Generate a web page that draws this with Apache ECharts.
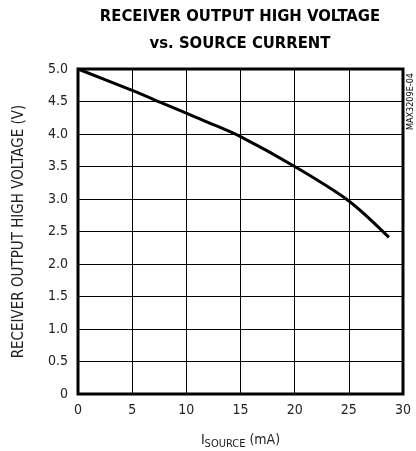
<!DOCTYPE html>
<html><head><meta charset="utf-8">
<script src="https://cdn.jsdelivr.net/npm/echarts@6/dist/echarts.min.js"></script>
<style>html,body{margin:0;padding:0;background:#fff}#c{width:416px;height:451px}</style>
</head><body><div id="c"></div>
<script>
const currentMA = [0, 5, 8, 10, 12, 15, 20, 25, 28.7];
const voltageV = [5.0, 4.67, 4.46, 4.32, 4.18, 3.96, 3.50, 2.97, 2.41];
const xTicks = [0, 5, 10, 15, 20, 25, 30];
const yTicks = [0, 0.5, 1.0, 1.5, 2.0, 2.5, 3.0, 3.5, 4.0, 4.5, 5.0];
const titleLines = ['RECEIVER OUTPUT HIGH VOLTAGE', 'vs. SOURCE CURRENT'];
const yName = 'RECEIVER OUTPUT HIGH VOLTAGE (V)';
const watermark = 'MAX3209E-04';

const narrow = "DejaVu Sans Condensed";
const chart = echarts.init(document.getElementById('c'), null, {renderer: 'canvas'});
chart.setOption({
  animation: false,
  backgroundColor: '#fff',
  title: [{
    text: titleLines.join('\n'),
    left: 240, top: 3.5, padding: 0, textAlign: 'center',
    textStyle: {fontFamily: "DejaVu Sans Condensed", fontWeight: 'bold', fontSize: 16.5, lineHeight: 27, color: '#000'}
  }],
  graphic: [{
    type: 'text', x: 411, y: 130, rotation: Math.PI / 2,
    style: {text: watermark, fontFamily: narrow, fontSize: 9, fill: '#000', align: 'left', verticalAlign: 'middle'}
  }],
  grid: {left: 78, right: 13, top: 69, bottom: 57, show: true, borderColor: '#000', borderWidth: 3, containLabel: false, outerBoundsMode: 'none'},
  xAxis: {
    type: 'value', min: 0, max: 30, interval: 5,
    axisLine: {show: false}, axisTick: {show: false},
    splitLine: {show: true, lineStyle: {color: '#000', width: 1}},
    axisLabel: {margin: 9, fontFamily: narrow, fontSize: 14, color: '#222'},
    name: '{i|I}{s|SOURCE}{i| (mA)}',
    nameLocation: 'middle', nameGap: 35,
    nameTextStyle: {
      rich: {
        i: {fontFamily: narrow, fontSize: 14, color: '#222', verticalAlign: 'bottom', lineHeight: 18},
        s: {fontFamily: narrow, fontSize: 11, color: '#222', verticalAlign: 'bottom', lineHeight: 14, padding: [0,0,-3,0]}
      }
    }
  },
  yAxis: {
    type: 'value', min: 0, max: 5, interval: 0.5,
    axisLine: {show: false}, axisTick: {show: false},
    splitLine: {show: true, lineStyle: {color: '#000', width: 1}},
    axisLabel: {margin: 10, fontFamily: narrow, fontSize: 14, color: '#222',
      formatter: v => v === 0 ? '0' : v.toFixed(1)},
    name: yName, nameLocation: 'middle', nameGap: 51,
    nameTextStyle: {fontFamily: narrow, fontSize: 15, color: '#222'}
  },
  series: [{
    type: 'line', data: currentMA.map((x, i) => [x, voltageV[i]]),
    showSymbol: false, smooth: 0.3,
    lineStyle: {color: '#000', width: 3}, z: 5
  }]
});
</script></body></html>
